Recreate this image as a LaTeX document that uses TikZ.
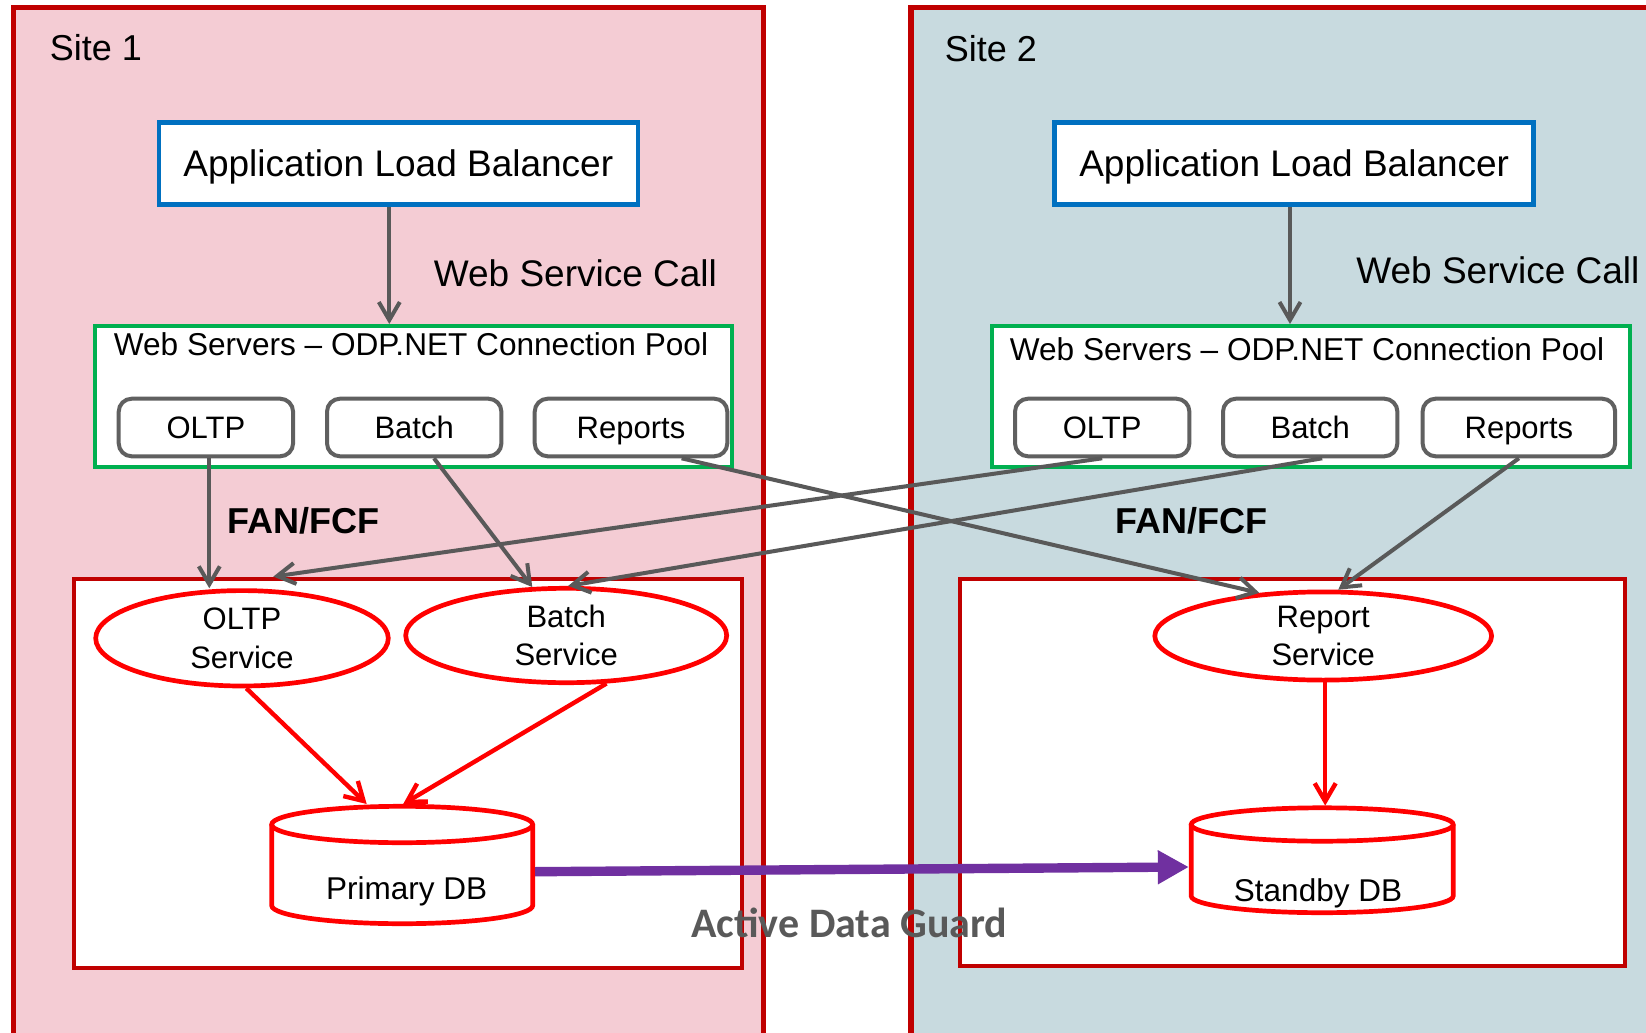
\documentclass[tikz,border=0pt]{standalone}
\usepackage{fontspec}
\setmainfont{Liberation Sans}
\newfontfamily\adgfont{Carlito}
\usetikzlibrary{arrows.meta,shapes.geometric,calc}
\definecolor{sitepink}{RGB}{244,204,212}
\definecolor{siteblue}{RGB}{200,218,223}
\definecolor{darkred}{RGB}{192,0,0}
\definecolor{albblue}{RGB}{0,112,192}
\definecolor{poolgreen}{RGB}{0,176,80}
\definecolor{boxgray}{RGB}{96,96,96}
\definecolor{arrgray}{RGB}{89,89,89}
\definecolor{adgpurple}{RGB}{112,48,160}
\definecolor{adgtext}{RGB}{89,89,89}
\tikzset{
  sitepanel/.style={line width=2.6pt,draw=darkred},
  albbox/.style={draw=albblue,line width=2.25pt,fill=white,inner sep=0pt,
    minimum width=239.5pt,minimum height=41pt,text height=13.25pt,text depth=0pt,
    font=\fontsize{18.5}{22}\selectfont},
  poolbox/.style={draw=poolgreen,line width=2pt,fill=white,inner sep=0pt,
    minimum height=70.7pt},
  connbox/.style={draw=boxgray,line width=2pt,fill=white,rounded corners=6.5pt,inner sep=0pt,
    minimum height=28.8pt,text height=11.1pt,text depth=0pt,font=\fontsize{15.5}{19}\selectfont},
  lowerbox/.style={draw=darkred,line width=2.1pt,fill=white,inner sep=0pt},
  service/.style={ellipse,draw=red,line width=2.35pt,fill=white,inner sep=0pt,align=center,
    font=\fontsize{15.5}{19.15}\selectfont},
  dbline/.style={draw=red,line width=2.35pt},
  dbbox/.style={inner sep=0pt,outer sep=0pt},
  lbl/.style={inner sep=0pt,anchor=base west},
  garrow/.style={draw=arrgray,line width=2pt,-{Straight Barb[length=9pt,width=10.5pt]}},
  rarrow/.style={draw=red,line width=2.2pt,-{Straight Barb[length=9pt,width=10.5pt]}},
  parrow/.style={draw=adgpurple,line width=4.7pt,-{Triangle[length=15.5pt,width=16pt]}},
}
\begin{document}
\begin{tikzpicture}[x=0.5pt,y=-0.5pt]
\useasboundingbox (0,0) rectangle (1646,1033);
\clip (0,0) rectangle (1646,1033);
\fill[white] (0,0) rectangle (1646,1033);
% site panels
\filldraw[sitepanel,fill=sitepink] (13.3,7.6) rectangle (763.3,1050);
\filldraw[sitepanel,fill=siteblue] (911,7.6) rectangle (1700,1050);
\node[lbl,font=\fontsize{18}{22}\selectfont] (site1) at (49.5,60.7) {Site 1};
\node[lbl,font=\fontsize{18}{22}\selectfont] (site2) at (944.5,61.7) {Site 2};
% lower boxes
\node[lowerbox,minimum width=334.2pt,minimum height=194.7pt] (lb1) at (407.9,773.4) {};
\node[lowerbox,minimum width=332.2pt,minimum height=193.5pt] (lb2) at (1292.5,772.8) {};
% load balancers
\node[albbox] (alb1) at (398.3,163.7) {Application Load Balancer};
\node[albbox] (alb2) at (1294.2,163.4) {Application Load Balancer};
\node[lbl,font=\fontsize{18.5}{22}\selectfont] (wsc1) at (433.5,286) {Web Service Call};
\node[lbl,font=\fontsize{18.5}{22}\selectfont] (wsc2) at (1356,283.3) {Web Service Call};
% web server pools
\node[poolbox,minimum width=318.7pt] (pool1) at (413.4,396.7) {};
\node[poolbox,minimum width=319pt] (pool2) at (1310.7,396.7) {};
\node[lbl,font=\fontsize{15.8}{19}\selectfont] (pt1) at (113.5,355) {Web Servers – ODP.NET Connection Pool};
\node[lbl,font=\fontsize{15.8}{19}\selectfont] (pt2) at (1009.5,360) {Web Servers – ODP.NET Connection Pool};
\node[connbox,minimum width=87.2pt] (p1oltp) at (205.9,427.5) {OLTP};
\node[connbox,minimum width=87.2pt] (p1batch) at (414.2,427.5) {Batch};
\node[connbox,minimum width=96.3pt] (p1rep) at (631,427.5) {Reports};
\node[connbox,minimum width=87.2pt] (p2oltp) at (1102.2,427.5) {OLTP};
\node[connbox,minimum width=87.2pt] (p2batch) at (1310.2,427.5) {Batch};
\node[connbox,minimum width=96.3pt] (p2rep) at (1518.9,427.5) {Reports};
% services
\node[service,minimum width=146.3pt,minimum height=47.7pt] (os) at (242,638.3) {OLTP\\Service};
\node[service,minimum width=160.5pt,minimum height=47.2pt] (bs) at (566.2,635.5) {Batch\\Service};
\node[service,minimum width=168.4pt,minimum height=44.1pt] (rs) at (1323.2,636) {Report\\Service};
% databases
\node[dbbox,minimum width=133pt,minimum height=61pt] (pdb) at (402.2,865) {};
\path[fill=white] (271.7,824.5) -- (271.7,905.5) arc[start angle=180,end angle=0,x radius=130.5,y radius=18.2] -- (532.7,824.5) arc[start angle=0,end angle=-180,x radius=130.5,y radius=18.2] -- cycle;
\draw[dbline] (271.7,824.5) -- (271.7,905.5) arc[start angle=180,end angle=0,x radius=130.5,y radius=18.2] -- (532.7,824.5);
\draw[dbline] (402.2,824.5) ellipse[x radius=130.5,y radius=18.2];
\node[inner sep=0pt,anchor=base,font=\fontsize{15.75}{19}\selectfont] (pdbt) at (406.7,899.3) {Primary DB};
\node[dbbox,minimum width=133.35pt,minimum height=54.7pt] (sdb) at (1322.2,860.3) {};
\path[fill=white] (1191.2,824.5) -- (1191.2,896) arc[start angle=180,end angle=0,x radius=131,y radius=16.7] -- (1453.2,824.5) arc[start angle=0,end angle=-180,x radius=131,y radius=16.7] -- cycle;
\draw[dbline] (1191.2,824.5) -- (1191.2,896) arc[start angle=180,end angle=0,x radius=131,y radius=16.7] -- (1453.2,824.5);
\draw[dbline] (1322.2,824.5) ellipse[x radius=131,y radius=16.7];
\node[inner sep=0pt,anchor=base,font=\fontsize{15.75}{19}\selectfont] (sdbt) at (1318,901.5) {Standby DB};
% labels
\node[lbl,font=\bfseries\fontsize{18}{22}\selectfont] (fan1) at (226.8,533) {FAN/FCF};
\node[lbl,font=\bfseries\fontsize{18}{22}\selectfont] (fan2) at (1115,533) {FAN/FCF};
% connectors
\draw[garrow] ([xshift=-4.5pt]alb1.south) -- ([xshift=-4.5pt]alb1.south |- pool1.north);
\draw[garrow] ([xshift=-2.1pt]alb2.south) -- ([xshift=-2.1pt]alb2.south |- pool2.north);
\draw[garrow] ([xshift=1.7pt]p1oltp.south) -- ([xshift=1.7pt]p1oltp.south |- os.north);
\draw[garrow] ([xshift=9.9pt]p1batch.south) -- (bs.125);
\draw[garrow] ([xshift=25.3pt]p1rep.south) -- (rs.146);
\draw[garrow] (p2oltp.south) -- ([xshift=-67.3pt]lb1.north);
\draw[garrow] ([xshift=6pt]p2batch.south) -- ([xshift=1pt]bs.north);
\draw[garrow] (p2rep.south) -- (rs.72);
\draw[rarrow] (os.-85) -- ([xshift=-17.75pt]pdb.north);
\draw[rarrow] (bs.-50) -- ([xshift=0.5pt]pdb.north);
\draw[rarrow] ([xshift=1pt]rs.south) -- ([xshift=1pt]rs.south |- sdb.north);
\draw[parrow] ([yshift=-3.35pt]pdb.east) -- ([yshift=-3.35pt]sdb.west);
\node[lbl,font=\adgfont\bfseries\fontsize{21}{25}\selectfont,text=adgtext] (adg) at (691,937.3) {Active Data Guard};
\end{tikzpicture}
\end{document}
